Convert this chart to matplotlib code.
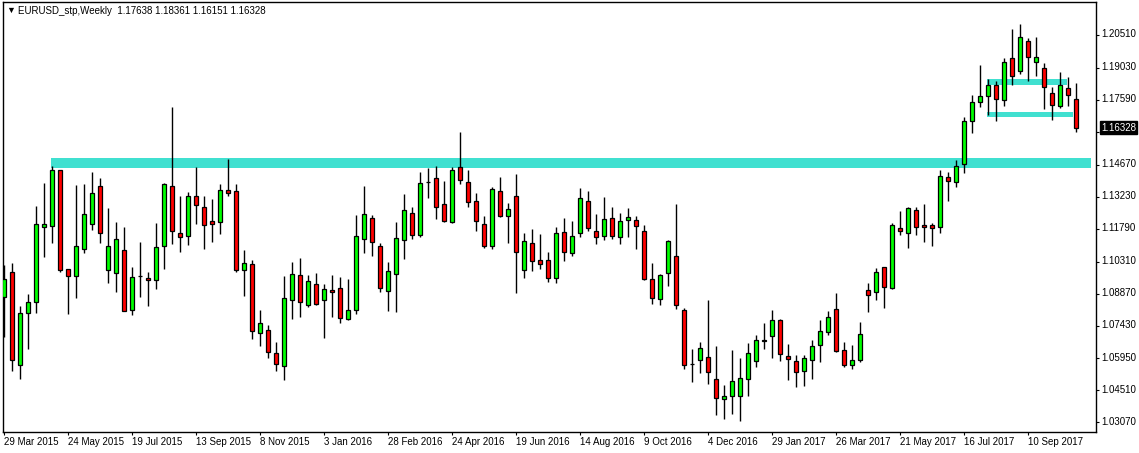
import matplotlib.pyplot as plt
import matplotlib.transforms as mtransforms
from matplotlib.patches import Rectangle

# weekly EURUSD candles, 29 Mar 2015 .. 22 Oct 2017
opens = [1.0870, 1.0983, 1.0564, 1.0798, 1.0848, 1.1185, 1.1190, 1.1442, 1.0996, 1.0965,
         1.1086, 1.1199, 1.1370, 1.0992, 1.0978, 1.1082, 1.0812, 1.0965, 1.0956, 1.0947,
         1.1100, 1.1370, 1.1158, 1.1145, 1.1325, 1.1275, 1.1212, 1.1208, 1.1352, 1.1347,
         1.0992, 1.1019, 1.0708, 1.0722, 1.0618, 1.0562, 1.0857, 1.0969, 1.0834, 1.0929,
         1.0857, 1.0902, 1.0911, 1.0771, 1.0812, 1.1131, 1.1226, 1.1100, 1.0897, 1.0974,
         1.1127, 1.1248, 1.1149, 1.1390, 1.1406, 1.1289, 1.1208, 1.1455, 1.1388, 1.1302,
         1.1199, 1.1100, 1.1347, 1.1237, 1.1325, 1.0992, 1.1113, 1.1037, 1.1037, 1.0956,
         1.1163, 1.1068, 1.1158, 1.1302, 1.1167, 1.1145, 1.1226, 1.1140, 1.1217, 1.1217,
         1.1167, 1.0951, 1.0861, 1.0978, 1.1055, 1.0812, 1.0569, 1.0587, 1.0600, 1.0501,
         1.0411, 1.0425, 1.0425, 1.0501, 1.0582, 1.0675, 1.0695, 1.0767, 1.0605, 1.0582,
         1.0537, 1.0587, 1.0654, 1.0713, 1.0816, 1.0632, 1.0564, 1.0587, 1.0902, 1.0893,
         1.1005, 1.0911, 1.1180, 1.1158, 1.1262, 1.1194, 1.1194, 1.1185, 1.1410, 1.1388,
         1.1469, 1.1662, 1.1748, 1.1775, 1.1824, 1.1757, 1.1946, 1.1887, 1.2022, 1.1928,
         1.1901, 1.1788, 1.1730, 1.1811, 1.17638]
highs = [1.1016, 1.1023, 1.0831, 1.0885, 1.1281, 1.1385, 1.1461, 1.1444, 1.0997, 1.1376,
         1.1380, 1.1433, 1.1407, 1.1271, 1.1208, 1.1185, 1.1005, 1.1118, 1.0983, 1.1203,
         1.1383, 1.1727, 1.1325, 1.1343, 1.1455, 1.1325, 1.1311, 1.1380, 1.1491, 1.1380,
         1.1082, 1.1038, 1.0813, 1.0744, 1.0668, 1.0966, 1.1028, 1.1046, 1.0969, 1.0978,
         1.0929, 1.0969, 1.0960, 1.0951, 1.1239, 1.1370, 1.1239, 1.1113, 1.1028, 1.1208,
         1.1334, 1.1275, 1.1433, 1.1451, 1.1460, 1.1392, 1.1455, 1.1613, 1.1442, 1.1338,
         1.1235, 1.1365, 1.1410, 1.1293, 1.1425, 1.1158, 1.1176, 1.1154, 1.1073, 1.1185,
         1.1226, 1.1212, 1.1361, 1.1347, 1.1244, 1.1320, 1.1275, 1.1248, 1.1271, 1.1235,
         1.1194, 1.1023, 1.0974, 1.1127, 1.1289, 1.0821, 1.0636, 1.0668, 1.0857, 1.0650,
         1.0474, 1.0632, 1.0596, 1.0663, 1.0699, 1.0753, 1.0812, 1.0771, 1.0659, 1.0609,
         1.0609, 1.0677, 1.0767, 1.0807, 1.0888, 1.0668, 1.0654, 1.0758, 1.0933, 1.1001,
         1.1005, 1.1203, 1.1257, 1.1275, 1.1275, 1.1289, 1.1203, 1.1442, 1.1433, 1.1487,
         1.1680, 1.1779, 1.1914, 1.1851, 1.1842, 1.1946, 1.2076, 1.2099, 1.2036, 1.2040,
         1.1923, 1.1815, 1.1883, 1.1860, 1.18361]
lows = [1.0690, 1.0540, 1.0501, 1.0636, 1.0798, 1.1053, 1.1116, 1.0985, 1.0796, 1.0868,
        1.1071, 1.1174, 1.1116, 1.0936, 1.0895, 1.0807, 1.0789, 1.0873, 1.0830, 1.0906,
        1.0999, 1.1110, 1.1073, 1.1107, 1.1201, 1.1089, 1.1120, 1.1156, 1.1325, 1.0983,
        1.0877, 1.0681, 1.0651, 1.0596, 1.0540, 1.0498, 1.0773, 1.0783, 1.0828, 1.0834,
        1.0688, 1.0783, 1.0756, 1.0767, 1.0794, 1.1071, 1.1055, 1.0893, 1.0807, 1.0803,
        1.1044, 1.1131, 1.1140, 1.1318, 1.1221, 1.1208, 1.1206, 1.1379, 1.1275, 1.1167,
        1.1091, 1.1086, 1.1231, 1.1116, 1.0891, 1.0956, 1.0987, 1.0999, 1.0938, 1.0933,
        1.1032, 1.1055, 1.1140, 1.1167, 1.1109, 1.1127, 1.1134, 1.1109, 1.1140, 1.1089,
        1.0950, 1.0839, 1.0834, 1.0920, 1.0817, 1.0546, 1.0491, 1.0528, 1.0479, 1.0339,
        1.0321, 1.0344, 1.0312, 1.0425, 1.0555, 1.0636, 1.0596, 1.0582, 1.0497, 1.0465,
        1.0470, 1.0501, 1.0578, 1.0699, 1.0626, 1.0555, 1.0546, 1.0578, 1.0803, 1.0857,
        1.0821, 1.0906, 1.1149, 1.1091, 1.1149, 1.1118, 1.1101, 1.1158, 1.1302, 1.1365,
        1.1428, 1.1608, 1.1725, 1.1689, 1.1662, 1.1730, 1.1824, 1.1874, 1.1842, 1.1865,
        1.1716, 1.1667, 1.1721, 1.1730, 1.16151]
closes = [1.0951, 1.0587, 1.0798, 1.0848, 1.1199, 1.1199, 1.1442, 1.0992, 1.0965, 1.1100,
          1.1244, 1.1338, 1.1158, 1.1100, 1.1131, 1.0807, 1.0960, 1.0966, 1.0947, 1.1095,
          1.1379, 1.1167, 1.1140, 1.1325, 1.1284, 1.1194, 1.1199, 1.1352, 1.1338, 1.0992,
          1.1023, 1.0717, 1.0753, 1.0623, 1.0569, 1.0866, 1.0974, 1.0848, 1.0942, 1.0839,
          1.0906, 1.0893, 1.0776, 1.0812, 1.1145, 1.1244, 1.1118, 1.0911, 1.0987, 1.1136,
          1.1262, 1.1149, 1.1383, 1.1391, 1.1275, 1.1212, 1.1442, 1.1397, 1.1298, 1.1212,
          1.1100, 1.1356, 1.1238, 1.1266, 1.1073, 1.1122, 1.1032, 1.1019, 1.0956, 1.1158,
          1.1073, 1.1145, 1.1316, 1.1181, 1.1140, 1.1221, 1.1145, 1.1212, 1.1230, 1.1190,
          1.0951, 1.0866, 1.0969, 1.1122, 1.0834, 1.0564, 1.0568, 1.0641, 1.0533, 1.0416,
          1.0425, 1.0492, 1.0506, 1.0618, 1.0677, 1.0676, 1.0767, 1.0614, 1.0591, 1.0533,
          1.0596, 1.0650, 1.0717, 1.0780, 1.0627, 1.0564, 1.0587, 1.0704, 1.0879, 1.0983,
          1.0915, 1.1194, 1.1167, 1.1271, 1.1185, 1.1185, 1.1181, 1.1415, 1.1392, 1.1460,
          1.1662, 1.1748, 1.1775, 1.1824, 1.1761, 1.1928, 1.1865, 1.2040, 1.1950, 1.1950,
          1.1815, 1.1734, 1.1824, 1.1779, 1.16328]

date_labels = ['29 Mar 2015', '24 May 2015', '19 Jul 2015', '13 Sep 2015', '8 Nov 2015',
               '3 Jan 2016', '28 Feb 2016', '24 Apr 2016', '19 Jun 2016', '14 Aug 2016',
               '9 Oct 2016', '4 Dec 2016', '29 Jan 2017', '26 Mar 2017', '21 May 2017',
               '16 Jul 2017', '10 Sep 2017']
price_ticks = [1.03070, 1.04510, 1.05950, 1.07430, 1.08870, 1.10310, 1.11790,
               1.13230, 1.14670, 1.16150, 1.17590, 1.19030, 1.20510]

# drawn rectangles: (first bar, last bar, low price, high price)
zones = [(5.875, 135.9, 1.1453, 1.1497),
         (122.9, 132.9, 1.1827, 1.1853),
         (122.9, 133.65, 1.1683, 1.1704)]

plt.rcParams['font.family'] = ['Liberation Sans', 'DejaVu Sans']

W, H = 1139, 453
fig = plt.figure(figsize=(W / 100, H / 100), dpi=100)
ax = fig.add_axes([3 / W, 21 / H, 1093 / W, 430 / H])

n = len(opens)
xs = list(range(n))

for z in zones:
    ax.add_patch(Rectangle((z[0], z[2]), z[1] - z[0], z[3] - z[2],
                           facecolor='#40E0D0', edgecolor='none', zorder=1))

ax.vlines(xs, lows, highs, color='black', linewidth=1.0, zorder=2)
cols = ['#00FF00' if c >= o else '#FF0000' for o, c in zip(opens, closes)]
hts = [c - o for o, c in zip(opens, closes)]
ax.bar(xs, hts, bottom=opens, width=0.55, color=cols, edgecolor='black',
       linewidth=0.9, zorder=3)

ax.set_xlim(-0.125, 136.5)
ax.set_ylim(1.0264, 1.2199)

last = closes[-1]

ax.set_xticks(list(range(0, 8 * len(date_labels), 8)))
ax.set_xticklabels(date_labels, ha='left', fontsize=7)
ax.yaxis.tick_right()
ax.set_yticks(price_ticks)
# the label at 1.16150 sits under the last-price box
ax.set_yticklabels(['' if abs(p - last) < 0.004 else '%.5f' % p for p in price_ticks], fontsize=7)
ax.tick_params(axis='both', direction='out', length=2.2, width=0.8, color='black')
ax.tick_params(axis='x', pad=1.5)
ax.tick_params(axis='y', pad=1.5)
shift = mtransforms.ScaledTranslation(0, 0.016, fig.dpi_scale_trans)
for lbl in ax.get_yticklabels():
    lbl.set_transform(lbl.get_transform() + shift)
for s in ax.spines.values():
    s.set_linewidth(1.0)
    s.set_color('black')

# last price marker
tr = mtransforms.blended_transform_factory(ax.transAxes, ax.transData)
ax.text(1.0, last, '%.5f' % last,
        transform=tr + mtransforms.ScaledTranslation(0.05, 0, fig.dpi_scale_trans),
        color='white', fontsize=7, va='center', ha='left', zorder=10, clip_on=False,
        bbox=dict(boxstyle='square,pad=0.15', facecolor='black', edgecolor='black'))

fig.text(6 / W, 1 - 10 / H, '\u25BC', fontsize=6.5, va='center', ha='left')
fig.text(18 / W, 1 - 11 / H,
         'EURUSD_stp,Weekly  %.5f %.5f %.5f %.5f' % (opens[-1], highs[-1], lows[-1], closes[-1]),
         fontsize=7, va='center', ha='left')

plt.savefig('out.png', dpi=100)
